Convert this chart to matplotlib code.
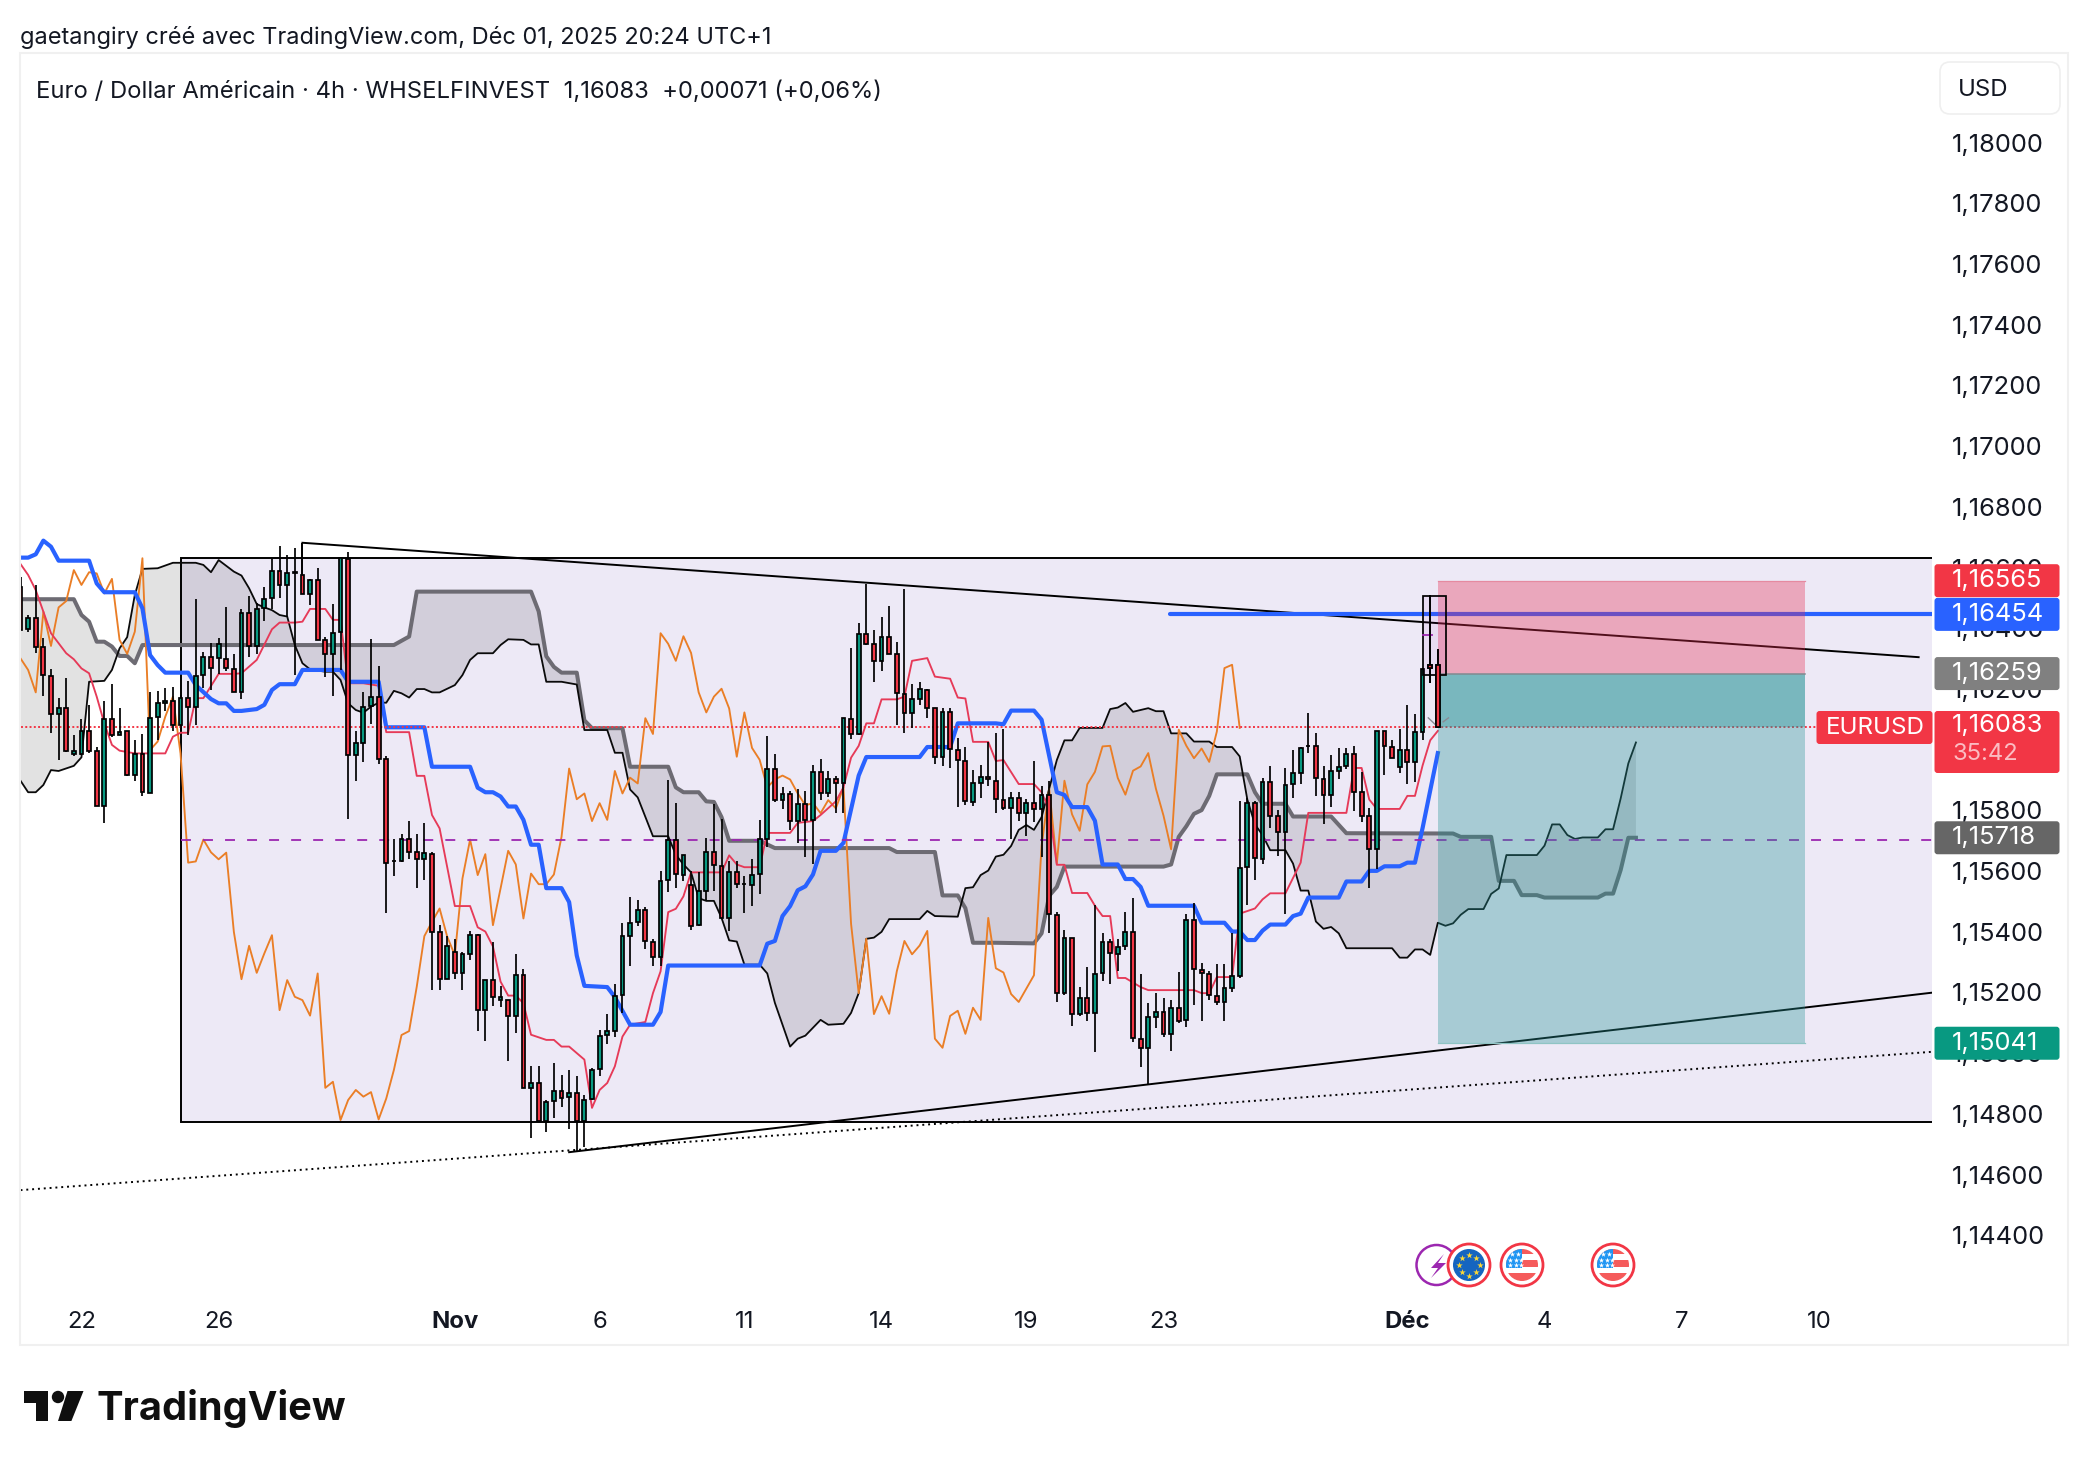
import numpy as np
import matplotlib
matplotlib.use("Agg")
import matplotlib.pyplot as plt
from matplotlib.patches import Rectangle, Circle, FancyBboxPatch, Polygon

plt.rcParams['font.family'] = ['Inter', 'DejaVu Sans']

W, H = 2088, 1466
P = 1e-5  # values below are prices in 1/100000

opens = [116545,116405,116441,116346,116252,116125,116147,115993,115993,116069,
116005,115823,116108,116056,116069,115926,115994,115867,116115,116161,
116170,116090,116180,116149,116254,116313,116310,116308,116275,116197,
116460,116350,116475,116508,116598,116551,116589,116585,116521,116567,
116368,116324,116396,116637,115991,116029,116152,116183,115977,115643,
115641,115713,115670,115647,115666,115406,115252,115343,115272,115334,
115396,115149,115248,115183,115182,115131,115267,
114893,114910,114785,114851,114883,114864,114878,114785,114857,114956,115067,115080,115200,115395,115439,115480,115376,115324,115578,115710,
115596,115562,115430,115544,115671,115626,115454,115606,115567,115562,115597,115714,115945,115843,115862,115773,115828,115777,115936,115864,
115912,115897,116109,116060,116389,116355,116299,116380,116324,116193,116129,116176,116206,116144,115984,116131,116008,115971,115836,115897,
115919,115906,115842,115815,115848,115800,115833,115813,115860,115464,115205,115388,115138,115189,115141,115272,115374,115336,115360,115407,
115056,115025,115129,115144,115072,115158,115117,115448,115283,115270,115197,115176,115224,115264,115621,115833,115647,115903,115791,115738,
115894,115933,116022,116019,115913,115859,115939,115953,115995,115868,115790,115682,116070,116017,115950,116007,115968,116068,116286,116288]

closes = [116403,116441,116346,116254,116125,116147,116004,116003,116069,116005,
115823,116108,116056,116068,115926,115994,115869,116114,116161,116170,
116089,116180,116149,116252,116313,116277,116357,116277,116197,116460,
116350,116473,116506,116598,116552,116589,116593,116521,116567,116368,
116324,116394,116640,115991,116029,116150,116183,115977,115634,115641,
115713,115671,115647,115667,115408,115252,115360,115272,115334,115396,
115149,115248,115193,115193,115131,115267,114893,
114910,114785,114848,114883,114861,114878,114785,114854,114953,115066,115080,115197,115393,115437,115480,115378,115324,115576,115712,115597,
115662,115428,115541,115671,115627,115454,115606,115565,115565,115596,115714,115945,115841,115862,115773,115829,115776,115936,115864,115912,
115897,116112,116060,116389,116355,116299,116380,116325,116194,116129,116176,116207,116147,115984,116131,116011,115975,115838,115897,115919,
115910,115845,115815,115848,115800,115833,115813,115859,115468,115205,115388,115138,115189,115141,115270,115374,115338,115358,115407,115058,
115024,115126,115144,115070,115156,115115,115448,115285,115271,115201,115176,115224,115262,115618,115833,115650,115903,115791,115738,115892,
115930,116015,116019,115915,115859,115939,115950,115995,115870,115791,115680,116070,116020,115980,116007,115968,116066,116274,116276,116083]

highs = [116578,116452,116551,116375,116273,116178,116243,116057,116108,116156,
116018,116167,116225,116145,116071,116040,116060,116197,116202,116210,
116214,116189,116234,116504,116331,116359,116375,116477,116322,116471,
116515,116493,116543,116635,116679,116650,116672,116690,116570,116606,
116379,116488,116644,116659,116070,116197,116372,116284,115988,115713,
115731,115774,115731,115766,115670,115431,115395,115385,115341,115411,
115400,115249,115375,115231,115182,115335,115286,
114965,114965,114854,114976,114936,114952,114933,114871,114961,115085,115137,115235,115438,115522,115512,115489,115385,115607,115907,115832,
115662,115610,115604,115717,115829,115780,115643,115643,115593,115647,115776,116053,115995,115886,115871,115880,115873,115958,115978,115938,
115923,116114,116344,116427,116555,116401,116447,116483,116363,116538,116223,116232,116207,116147,116147,116147,116047,116017,115940,115958,
116034,116062,116077,115868,115868,115847,115970,115888,115906,115474,115415,115389,115226,115291,115497,115405,115383,115385,115474,115521,
115268,115174,115205,115191,115185,115277,115468,115503,115307,115279,115301,115301,115405,115838,115850,115838,115915,115956,115809,115947,
116006,116017,116130,116062,115953,115992,116013,116013,116019,115936,115817,116070,116070,116041,116076,116154,116127,116276,116519,116339]

lows = [116403,116397,116328,116186,116064,115974,116002,115988,115991,115996,
115823,115768,116049,116056,115920,115906,115854,115865,116040,116137,
116071,116071,116055,116088,116210,116205,116258,116269,116197,116175,
116315,116324,116433,116471,116508,116447,116254,116521,116485,116368,
116249,116186,116271,115779,115906,115969,116093,115960,115469,115593,
115638,115648,115552,115579,115217,115215,115252,115254,115215,115316,
115080,115050,115165,115162,114981,115076,114893,
114728,114783,114750,114796,114832,114759,114685,114698,114854,114933,115037,115060,115141,115297,115428,115350,115297,115297,115538,115554,
115575,115415,115428,115512,115541,115454,115411,115554,115471,115493,115532,115686,115836,115812,115744,115701,115653,115630,115841,115851,
115799,115799,116044,116057,116353,116232,116268,116323,116090,116062,116079,116157,116114,115962,115953,115949,115821,115825,115823,115849,
115890,115799,115809,115715,115774,115724,115770,115654,115403,115177,115201,115099,115132,115115,115012,115246,115235,115279,115348,115044,
114964,114905,115091,115062,115017,115109,115095,115168,115115,115185,115168,115115,115209,115256,115497,115580,115633,115750,115658,115468,
115850,115895,115997,115856,115764,115819,115913,115944,115807,115771,115554,115615,115924,115980,115933,115894,115903,116041,116227,116080]

kijun_idx = [0,1,2,3,4,5,9,10,11,15,16,17,18,19,22,23,25,26,27,28,29,31,32,33,34,36,37,42,43,47,48,53,54,59,60,61,62,63,
64,65,66,67,68,69,71,72,73,74,77,78,80,83,84,85,97,98,99,100,101,102,103,104,105,107,108,110,111,118,119,122,123,128,
129,130,133,134,136,137,138,140,141,142,144,145,146,147,148,154,155,158,159,160,161,162,163,164,166,167,168,169,173,174,176,177,178,179,181,182,183,184,186]
kijun_val = [116641,116641,116652,116697,116677,116631,116631,116556,116527,116527,116474,116320,116287,116262,116262,116221,116175,116161,116161,116136,116136,116142,116156,116205,116224,116224,116271,116271,116232,116232,116082,116082,115952,115952,115883,115868,115868,115854,
115821,115821,115777,115695,115695,115552,115552,115506,115330,115230,115226,115193,115102,115102,115144,115297,115297,115369,115378,115460,115493,115545,115558,115597,115675,115675,115701,115923,115984,115984,116017,116017,116095,116095,
116092,116137,116137,116107,115868,115859,115819,115819,115774,115630,115630,115582,115582,115556,115494,115494,115438,115438,115409,115409,115381,115381,115412,115432,115432,115460,115468,115521,115521,115574,115574,115609,115609,115624,115624,115636,115636,115750,115997]

tenkan_idx = [0,1,2,3,4,5,6,7,8,9,10,11,12,13,15,19,20,21,22,23,24,26,28,29,31,33,34,36,37,38,40,41,42,43,45,47,48,51,52,53,54,55,57,59,60,61,62,63,64,65,66,
67,69,70,71,72,74,75,76,77,78,79,80,82,83,84,85,86,87,88,91,92,93,94,95,97,98,101,102,104,105,107,108,109,110,111,112,113,115,116,117,119,120,122,123,124,125,127,128,
129,131,133,134,135,136,137,138,140,141,142,143,144,145,147,148,154,155,156,157,159,160,162,163,164,166,168,169,174,175,176,177,178,181,182,183,184,185,186]
tenkan_val = [116620,116584,116534,116463,116392,116359,116326,116306,116276,116260,116183,116095,116024,116005,115996,115996,116051,116064,116064,116178,116178,116258,116258,116260,116304,116405,116427,116427,116430,116472,116472,116436,116436,116227,116227,116219,116066,116066,115922,115922,115793,115749,115493,115493,115423,115409,115360,115244,115198,115198,115173,
115069,115052,115052,115030,115030,114987,114828,114887,114910,114965,115063,115102,115111,115206,115278,115473,115484,115525,115604,115604,115604,115660,115630,115621,115621,115734,115734,115767,115773,115793,115838,115884,115982,116021,116095,116095,116174,116174,116183,116301,116310,116249,116242,116180,116177,116034,116034,115971,
115974,115895,115895,115868,115809,115629,115629,115536,115536,115494,115460,115460,115256,115256,115226,115216,115216,115206,115206,115259,115259,115468,115485,115515,115535,115535,115636,115800,115800,115948,115948,115844,115813,115813,115856,115856,115956,116039,116070]

chikou_val = [116309,116271,116197,116463,116350,116477,116498,116600,116551,116593,116589,116523,116571,116370,116324,116397,116639,116007,116035,116117,116183,115996,
115636,115640,115712,115670,115647,115669,115408,115252,115362,115273,115337,115397,115150,115249,115194,115183,115132,115271,114894,114914,114788,114854,114887,114865,114880,114790,114859,114953,115068,115081,115227,115394,115441,115485,115392,115331,115584,115712,115595,115664,115430,115551,115675,115630,115452,115600,
115565,115565,115597,115721,115946,115845,115864,115773,115832,115777,115938,115864,115916,115897,116112,116060,116392,116357,116301,116382,116327,116197,116131,116183,116209,116144,115985,116131,116014,115975,115884,115910,115923,115910,115864,115825,115832,115799,115842,115815,115884,115434,115206,115385,115137,115196,115138,115278,115378,115334,115363,115411,115056,115026,115131,115148,115072,115158,115118,115454,115288,
115274,115203,115177,115221,115265,115691,115880,115633,115906,115795,115741,115894,115935,116019,116021,115915,115860,115939,115953,115997,115880,115791,115680,116074,116021,115980,116012,115968,116068,116277,116288,116080]

span_a_idx = [0,7,8,9,10,11,12,13,14,15,16,49,51,52,67,68,69,70,71,73,74,75,79,80,85,86,87,89,90,91,92,93,97,99,114,115,120,121,123,124,125,128,
133,134,135,136,137,150,151,152,153,154,155,156,157,161,162,163,166,167,172,174,188,189,193,194,196,197,199,200,207,208,209,210,211,212]
span_a_val = [116504,116504,116452,116430,116364,116364,116348,116317,116317,116293,116353,116353,116381,116529,116529,116464,116316,116281,116262,116262,116105,116079,116079,115952,115952,115884,115868,115868,115838,115836,115786,115708,115708,115684,115684,115671,115671,115528,115528,115486,115372,115372,
115370,115403,115527,115556,115623,115623,115630,115721,115756,115797,115809,115856,115927,115927,115868,115830,115830,115788,115788,115733,115732,115721,115721,115576,115576,115529,115529,115521,115521,115534,115534,115612,115718,115718]

span_b_idx = [0,1,2,3,4,5,7,8,9,11,12,13,14,15,16,18,20,23,24,25,26,28,29,30,31,32,33,34,35,36,37,38,40,41,42,43,44,45,46,47,48,49,50,51,52,53,54,55,57,58,59,60,62,63,
64,66,67,68,69,71,73,74,77,78,79,80,81,83,85,86,87,88,89,90,91,92,93,94,95,97,98,99,101,102,103,104,105,106,108,109,110,111,112,113,114,118,119,120,123,124,125,126,127,128,
129,130,131,132,133,134,135,136,137,138,139,142,143,144,145,146,148,149,150,151,153,154,156,157,159,160,161,162,163,164,166,167,168,169,170,171,172,173,174,180,181,182,183,184,185,
186,187,188,189,190,192,193,194,195,199,200,201,202,203,204,205,207,208,209,210,211,212]
span_b_val = [115906,115868,115868,115892,115941,115938,115955,115983,116232,116235,116271,116342,116379,116518,116604,116606,116624,116624,116617,116593,116633,116595,116582,116540,116488,116477,116468,116452,116447,116353,116293,116273,116265,116265,116238,116161,116139,116130,116150,116163,116163,116202,116194,116180,116208,116208,116197,116197,116221,116254,116304,116326,116326,116353,
116372,116370,116355,116355,116232,116232,116223,116073,116073,115998,115998,115877,115851,115723,115723,115662,115630,115604,115519,115510,115510,115454,115380,115376,115300,115300,115271,115174,115030,115056,115066,115092,115118,115102,115105,115141,115206,115385,115389,115408,115450,115450,115477,115460,115458,115552,115555,115595,115610,115656,
115662,115691,115744,115760,115744,115786,115880,115974,116039,116039,116080,116080,116142,116147,116162,116133,116145,116135,116135,116062,116062,116035,116035,116017,116017,115986,115844,115762,115727,115677,115677,115633,115544,115544,115442,115418,115424,115403,115354,115354,115323,115323,115350,115350,115332,
115438,115428,115436,115464,115483,115483,115533,115551,115661,115661,115692,115762,115762,115727,115714,115719,115719,115746,115746,115848,115963,116032]

price_ticks = [118000,117800,117600,117400,117200,117000,116800,116600,116400,116200,116000,115800,115600,115400,115200,115000,114800,114600,114400]
time_tick_idx = [8,26,57,76,95,113,132,150,182,200,218,236]
time_tick_labels = ['22','26','Nov','6','11','14','19','23','Déc','4','7','10']

last_price = 116083
stop_price, entry_price, target_price = 116565, 116259, 115041
blue_level = 116454
purple_level = 115712
box_top, box_bottom = 116641, 114782
trend_top_idx, trend_top_val = [37, 249.1], [116690, 116313]
trend_bot_idx, trend_bot_val = [72, 251], [114682, 115208]
trend_dot_idx, trend_dot_val = [0, 251], [114557, 115013]

GREEN, RED, BLUE = '#089981', '#f23645', '#2962ff'
LAV = '#ede9f6'
INK = '#131722'

fig = plt.figure(figsize=(W/100, H/100), dpi=100, facecolor='white')
L, R, T, B = 21, 1932, 54, 1300
ax = fig.add_axes([L/W, 1-B/H, (R-L)/W, (B-T)/H], facecolor='white')
XPX = 7.62
ax.set_xlim((L-20.5)/XPX, (R-20.5)/XPX)
Y0 = 580.7; YS = 30350
ax.set_ylim(1.16565-(B-Y0)/YS, 1.16565+(Y0-T)/YS)
for s in ax.spines.values():
    s.set_visible(False)

def pr(a):
    return np.asarray(a, float)*P

xmax = ax.get_xlim()[1]
xmin = ax.get_xlim()[0]
# box, cloud, indicators, candles
ax.add_patch(Rectangle((21, box_bottom*P), xmax+2-21, (box_top-box_bottom)*P, facecolor=LAV, edgecolor='black', lw=1.4, zorder=1))
ax.fill(np.r_[span_a_idx, span_b_idx[::-1]], np.r_[pr(span_a_val), pr(span_b_val)[::-1]], color='black', alpha=0.115, lw=0, zorder=2)
ax.plot(span_a_idx, pr(span_a_val), color='#6d6b73', lw=2.9, zorder=3, solid_joinstyle='round')
ax.plot(span_b_idx, pr(span_b_val), color='#0a0a0a', lw=1.3, zorder=3)
ax.plot(np.arange(len(chikou_val)), pr(chikou_val), color='#ea7e26', lw=1.35, zorder=3)
ax.plot(tenkan_idx, pr(tenkan_val), color='#e63a58', lw=1.35, zorder=3)
ax.plot(kijun_idx, pr(kijun_val), color=BLUE, lw=3.0, zorder=3)

ax.plot(trend_dot_idx, pr(trend_dot_val), color='black', lw=1.4, ls=(0,(1,2.0)), zorder=4)
ax.plot(trend_bot_idx, pr(trend_bot_val), color='black', lw=1.4, zorder=4)
ax.plot(trend_top_idx, pr(trend_top_val), color='black', lw=1.4, zorder=4)
ax.vlines(37, pr(116585), pr(116690), color='black', lw=1.3, zorder=4)

ax.plot([21, xmax], pr([purple_level]*2), color='#9c27b0', lw=1.3, ls=(0,(5.5,6.7)), zorder=4)
ax.plot([xmin, xmax], pr([last_price]*2), color=RED, lw=1.4, ls=(0,(1,1.2)), zorder=4)
ax.plot([150.8, xmax], pr([blue_level]*2), color=BLUE, lw=3.0, zorder=4, solid_capstyle='round')

idx = np.arange(len(opens))
o, c, h, l = map(pr, (opens, closes, highs, lows))
ax.vlines(idx, l, h, color='black', lw=1.25, zorder=5)
cols = [GREEN if cc >= oo else RED for oo, cc in zip(o, c)]
ax.bar(idx, c-o, bottom=o, width=0.5, color=cols, edgecolor='black', lw=1.25, zorder=6)

# position tool
tx0, tx1 = 186, 234.14
ax.add_patch(Rectangle((tx0, pr(entry_price)), tx1-tx0, pr(stop_price-entry_price), facecolor=(231/255,44/255,80/255,0.35), lw=0, zorder=7))
teal = (37/255,147/255,149/255,0.35)
ax.add_patch(Rectangle((tx0, pr(target_price)), tx1-tx0, pr(entry_price-target_price), facecolor=teal, lw=0, zorder=7))
ax.add_patch(Rectangle((tx0, pr(last_price)), tx1-tx0, pr(entry_price-last_price), facecolor=teal, lw=0, zorder=7))
ax.plot([tx0, tx1], pr([stop_price]*2), color='#e58aa0', lw=0.9, zorder=7)
ax.plot([tx0, tx1], pr([entry_price]*2), color='#808a90', lw=1.1, zorder=7)
ax.plot([tx0, tx1], pr([target_price]*2), color='#8fc4c4', lw=0.9, zorder=7)
# small range box on last bars
ax.add_patch(Rectangle((184, pr(116254)), 3.05, pr(116515-116254), facecolor=(0.61,0.15,0.69,0.07), edgecolor='black', lw=1.25, zorder=8))
ax.plot([184, 185.3], pr([116386]*2), color='#9c27b0', lw=1.3, zorder=8)
ax.plot([184.75, 185.75], pr([116113,116089]), color='#8a8a94', lw=1, zorder=8)
ax.plot([186.7, 187.4], pr([116100,116113]), color='#8a8a94', lw=1, zorder=8)
# last candles stay above the tool
for k in (-1, -2):
    ax.vlines(idx[k], l[k], h[k], color='black', lw=1.25, zorder=9)
    ax.bar(idx[k], c[k]-o[k], bottom=o[k], width=0.5, color=RED, edgecolor='black', lw=1.25, zorder=9)

# axes
ax.set_yticks(pr(price_ticks))
ax.set_yticklabels([f"{p*P:.5f}".replace('.', ',') for p in price_ticks])
ax.yaxis.tick_right()
ax.tick_params(axis='y', length=0, pad=14.4, labelsize=18.4, labelcolor=INK)
for t in ax.get_yticklabels():
    t.set_y(t.get_position()[1])
    t.set_verticalalignment('center')
ax.set_xticks(time_tick_idx)
ax.set_xticklabels(time_tick_labels)
ax.tick_params(axis='x', length=0, pad=8.2, labelsize=17.2, labelcolor=INK)
for t in ax.get_xticklabels():
    if t.get_text() in ('Nov', 'Déc'):
        t.set_fontweight('bold')

# chrome drawn in pixel space
ov = fig.add_axes([0, 0, 1, 1], facecolor='none', zorder=10)
ov.set_xlim(0, W); ov.set_ylim(H, 0); ov.axis('off')

def ypx(p):
    return Y0+(1.16565-p*P)*YS

ov.add_patch(Rectangle((20, 53), 2048, 1292, fill=False, edgecolor='#f0f0f0', lw=1.5))
ov.text(20, 37.5, "gaetangiry créé avec TradingView.com, Déc 01, 2025 20:24 UTC+1", fontsize=16.95, color=INK, va='center', ha='left')
ov.text(36, 91.5, "Euro / Dollar Américain · 4h · WHSELFINVEST  1,16083  +0,00071 (+0,06%)", fontsize=17.15, color=INK, va='center', ha='left')

ov.add_patch(FancyBboxPatch((1948, 70), 104, 36, boxstyle='round,pad=8,rounding_size=10', facecolor='white', edgecolor='#efefef', lw=1.2))
ov.text(1958, 90, 'USD', fontsize=17.2, color=INK, va='center', ha='left')

tags = [(116565, '1,16565', RED), (116454, '1,16454', BLUE), (116259, '1,16259', '#808080'), (115718, '1,15718', '#666666'), (115041, '1,15041', '#089981')]
for v, s, col in tags:
    yc = ypx(v)
    ov.add_patch(FancyBboxPatch((1935, yc-16), 124, 32, boxstyle='round,pad=0.5,rounding_size=3', facecolor=col, edgecolor='none'))
    ov.text(1952, yc, s, fontsize=18.4, color='white', va='center', ha='left')
ov.add_patch(FancyBboxPatch((1935, 711.5), 124, 61, boxstyle='round,pad=0.5,rounding_size=3', facecolor=RED, edgecolor='none'))
ov.text(1952, 726, '1,16083', fontsize=18.4, color='white', va='center', ha='left')
ov.text(1952, 754, '35:42', fontsize=17.2, color='#fbbcc2', va='center', ha='left')
ov.add_patch(FancyBboxPatch((1817, 711.5), 115, 32, boxstyle='round,pad=0.5,rounding_size=3', facecolor=RED, edgecolor='none'))
ov.text(1875, 728, 'EURUSD', fontsize=17.4, color='white', va='center', ha='center')

# event icons
yi = 1265
ov.add_patch(Circle((1436.5, yi), 20, facecolor='white', edgecolor='#9c27b0', lw=1.8))
ov.add_patch(Polygon([(1444,1254),(1431,1268),(1438,1268),(1431,1278),(1446,1263),(1438,1263)], facecolor='#9c27b0', edgecolor='none'))
ov.add_patch(Circle((1469, yi), 21, facecolor='white', edgecolor=RED, lw=2))
ov.add_patch(Circle((1469, yi), 16, facecolor='#1565c0', edgecolor='none'))
ang = np.linspace(0, 2*np.pi, 8, endpoint=False)
ov.scatter(1469+10.5*np.cos(ang), yi+10.5*np.sin(ang), marker='*', s=24, color='#fdd835', lw=0, zorder=5)
for xc in (1522, 1613):
    ov.add_patch(Circle((xc, yi), 21, facecolor='white', edgecolor=RED, lw=2))
    clip = Circle((xc, yi), 16, facecolor='white', edgecolor='none')
    ov.add_patch(clip)
    for y0, hh in ((yi-16, 5), (yi-5, 7), (yi+8, 8)):
        r = Rectangle((xc-16, y0), 32, hh, facecolor='#f55b5b', edgecolor='none', zorder=3)
        ov.add_patch(r); r.set_clip_path(clip)
    r = Rectangle((xc-16, yi-16), 16, 19, facecolor='#2196f3', edgecolor='none', zorder=4)
    ov.add_patch(r); r.set_clip_path(clip)
    sx = [xc-10, xc-4, xc-12, xc-6, xc-1, xc-12, xc-6, xc-1]
    sy = [yi-11, yi-11, yi-5, yi-5, yi-5, yi+0, yi+0, yi+0]
    ov.scatter(sx, sy, marker='*', s=16, color='white', lw=0, zorder=5)

# TradingView mark
LOGO = '#0f0f0f'
ov.add_patch(Polygon([(23.7,1391),(48.2,1391),(48.2,1421),(35.7,1421),(35.7,1403),(23.7,1403)], facecolor=LOGO, edgecolor='none'))
ov.add_patch(Circle((58, 1397), 6.2, facecolor=LOGO, edgecolor='none'))
ov.add_patch(Polygon([(67.5,1391),(83.5,1391),(71.4,1421),(58,1421)], facecolor=LOGO, edgecolor='none'))
ov.text(96, 1408, 'TradingView', fontsize=28.6, fontweight='bold', color=LOGO, va='center', ha='left')

fig.savefig('out.png', dpi=100, facecolor='white')
